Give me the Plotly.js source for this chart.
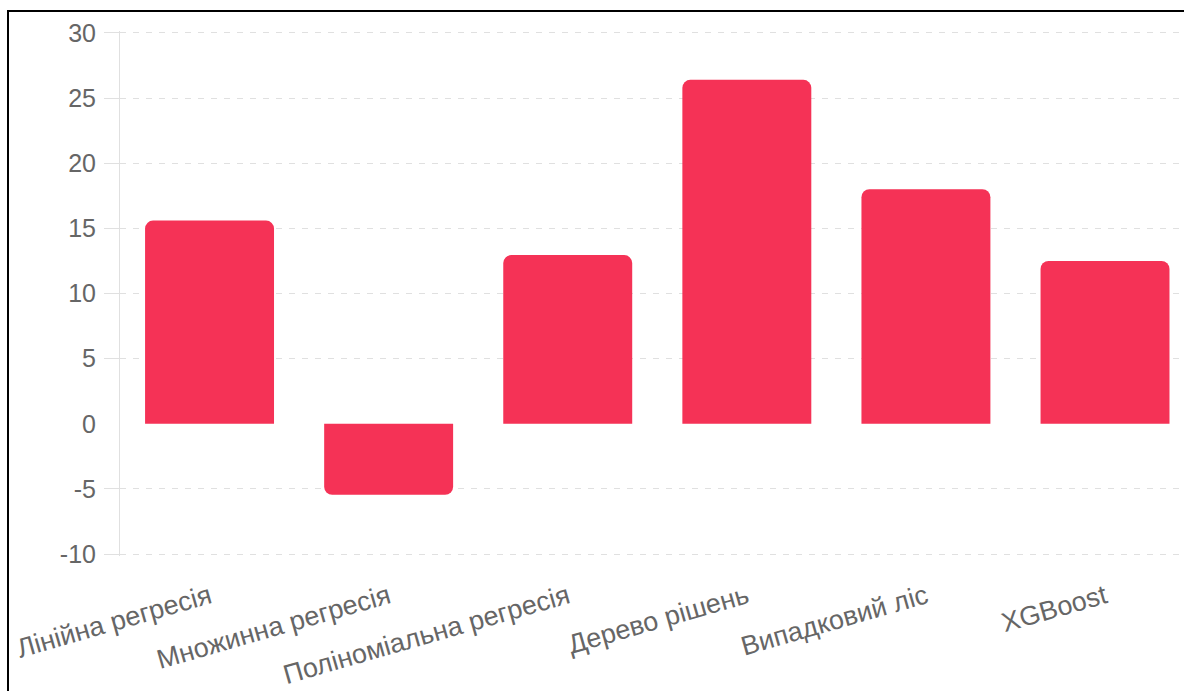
<!DOCTYPE html>
<html>
<head>
<meta charset="utf-8">
<script src="https://cdn.plot.ly/plotly-3.0.1.min.js"></script>
<style>
  html, body { margin: 0; padding: 0; background: #fff; overflow: hidden; }
  #chart { position: absolute; left: 0; top: 0; width: 1184px; height: 691px; }
  #frame {
    position: absolute; left: 7px; top: 10px; right: 0; bottom: 0;
    border-left: 2px solid #000; border-top: 2px solid #000;
    pointer-events: none;
  }
</style>
</head>
<body>
<div id="chart"></div>
<div id="frame"></div>
<script>
// Model names (Ukrainian) and their scores
const models = [
  'Лінійна регресія',
  'Множинна регресія',
  'Поліноміальна регресія',
  'Дерево рішень',
  'Випадковий ліс',
  'XGBoost'
];
const scores = [15.6, -5.45, 12.95, 26.4, 18.0, 12.5];

// Y-axis ticks: the zero line carries only a label, no grid line or tick mark
const gridTicks = [-10, -5, 5, 10, 15, 20, 25, 30];
const zeroTick = [0];

const barColor = 'rgb(245, 50, 86)';
const textColor = '#666666';
const lineColor = '#e0e0e0';
const fontFamily = 'Liberation Sans, Arial, Helvetica, sans-serif';
// a hair of padding so the -10 and 30 grid lines are not clipped at the edges
const yRange = [-10.15, 30.15];

const trace = {
  type: 'bar',
  x: models,
  y: scores,
  marker: { color: barColor, cornerradius: 8, line: { width: 0 } },
  hoverinfo: 'none'
};

const layout = {
  width: 1184,
  height: 691,
  margin: { l: 120, r: 0, t: 31, b: 135, pad: 0 },
  paper_bgcolor: 'rgba(0,0,0,0)',
  plot_bgcolor: '#ffffff',
  showlegend: false,
  bargap: 0.28,
  font: { family: fontFamily, color: textColor, size: 25 },
  xaxis: {
    type: 'category',
    range: [-0.5, 5.441],
    showgrid: false,
    zeroline: false,
    showline: false,
    ticks: '',
    tickangle: -16,
    ticklabelstandoff: 19,
    tickfont: { family: fontFamily, color: textColor, size: 27 },
    automargin: false,
    fixedrange: true
  },
  yaxis: {
    range: yRange,
    tickmode: 'array',
    tickvals: gridTicks,
    ticktext: gridTicks.map(String),
    showgrid: true,
    gridcolor: lineColor,
    gridwidth: 1,
    griddash: '6px,7px',
    zeroline: false,
    showline: true,
    linecolor: lineColor,
    linewidth: 1,
    ticks: 'outside',
    ticklen: 15,
    tickcolor: lineColor,
    tickwidth: 1,
    ticklabelstandoff: 3,
    tickfont: { family: fontFamily, color: textColor, size: 25 },
    automargin: false,
    fixedrange: true
  },
  yaxis2: {
    overlaying: 'y',
    side: 'left',
    range: yRange,
    tickmode: 'array',
    tickvals: zeroTick,
    ticktext: zeroTick.map(String),
    showgrid: false,
    zeroline: false,
    showline: false,
    ticks: 'outside',
    ticklen: 15,
    tickcolor: 'rgba(0,0,0,0)',
    ticklabelstandoff: 3,
    tickfont: { family: fontFamily, color: textColor, size: 25 },
    automargin: false,
    fixedrange: true
  }
};

// Invisible companion trace so the secondary axis (zero label) is drawn
const zeroAxisTrace = {
  type: 'scatter',
  x: [models[0]],
  y: [null],
  yaxis: 'y2',
  mode: 'markers',
  hoverinfo: 'none',
  showlegend: false
};

Plotly.newPlot('chart', [trace, zeroAxisTrace], layout, { staticPlot: true, displayModeBar: false });
</script>
</body>
</html>
